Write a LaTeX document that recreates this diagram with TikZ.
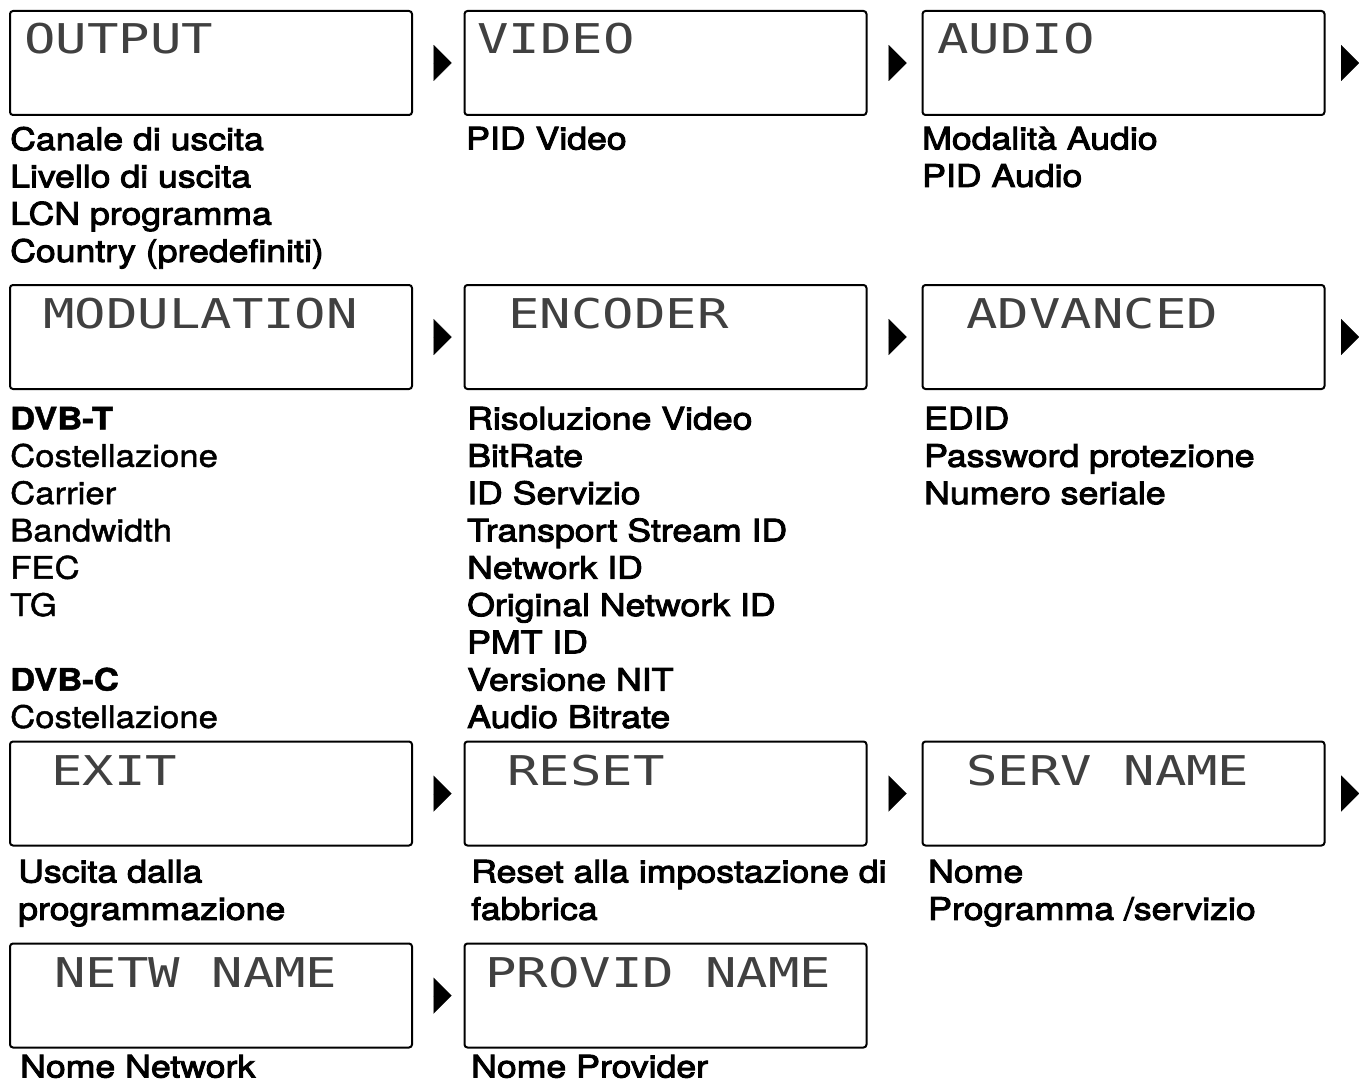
\documentclass[tikz,border=0pt]{standalone}
\usepackage{fontspec}
\usepackage{tikz}
\usetikzlibrary{arrows.meta}
\newfontfamily\lcdfont[FakeStretch=1.275]{DejaVu Sans Mono}
\newfontfamily\itemfont[FakeStretch=1.15,FakeBold=3]{TeX Gyre Heros}
\newfontfamily\itemlightfont[FakeStretch=1.12,FakeBold=1.5]{TeX Gyre Heros}

\begin{document}
\begin{tikzpicture}[x=1pt, y=-1pt,
    screen/.style = {draw, line width=2pt, rounded corners=3pt, minimum width=402pt, minimum height=104pt, inner sep=0pt},
    lcd/.style = {anchor=base west, inner sep=0pt, text=black!75, font=\lcdfont\fontsize{41}{41}\selectfont},
    items/.style = {anchor=north west, inner sep=0pt, align=left, font=\itemfont\fontsize{31}{37.3}\selectfont},
    flow/.style = {line width=0.01pt, -{Triangle[length=18pt, width=36pt]}}]
                \useasboundingbox (0,0) rectangle (1359,1083);

                \node[screen] at (211, 63) (output) {};
                \node[screen] at (665.5, 63) (video) {};
                \node[screen] at (1123.5, 63) (audio) {};
                \node[screen] at (211, 337) (modulation) {};
                \node[screen] at (665.5, 337) (encoder) {};
                \node[screen] at (1123.5, 337) (advanced) {};
                \node[screen] at (211, 793.5) (exit) {};
                \node[screen] at (665.5, 793.5) (reset) {};
                \node[screen] at (1123.5, 793.5) (servname) {};
                \node[screen] at (211, 995.5) (netwname) {};
                \node[screen] at (665.5, 995.5) (providname) {};

                \node[lcd] at (24, 54) (outputtxt) {OUTPUT};
                \node[lcd] at (477, 54) (videotxt) {VIDEO};
                \node[lcd] at (937, 54) (audiotxt) {AUDIO};
                \node[lcd] at (43, 328) (modulationtxt) {MODULATION};
                \node[lcd] at (508, 328) (encodertxt) {ENCODER};
                \node[lcd] at (966, 328) (advancedtxt) {ADVANCED};
                \node[lcd] at (51, 785) (exittxt) {EXIT};
                \node[lcd] at (507, 785) (resettxt) {RESET};
                \node[lcd] at (966, 785) (servnametxt) {SERV NAME};
                \node[lcd] at (54, 987) (netwnametxt) {NETW NAME};
                \node[lcd] at (485, 987) (providnametxt) {PROVID NAME};

                \node[items] at (10, 126.7) (outputlist) {Canale di uscita\\Livello di uscita\\LCN programma\\Country (predefiniti)};
                \node[items] at (466, 126.7) (videolist) {PID Video};
                \node[items] at (922, 126.7) (audiolist) {Modalità Audio\\PID Audio};
                \node[items, font=\itemlightfont\fontsize{31}{37.3}\selectfont] at (10, 406.7) (modulationlist) {\textbf{DVB-T}\\Costellazione\\Carrier\\Bandwidth\\FEC\\TG\\\mbox{}\\\textbf{DVB-C}\\Costellazione};
                \node[items] at (467, 406.7) (encoderlist) {Risoluzione Video\\BitRate\\ID Servizio\\Transport Stream ID\\Network ID\\Original Network ID\\PMT ID\\Versione NIT\\Audio Bitrate};
                \node[items] at (924, 406.7) (advancedlist) {EDID\\Password protezione\\Numero seriale};
                \node[items] at (18, 859.7) (exitlist) {Uscita dalla\\programmazione};
                \node[items] at (471, 859.7) (resetlist) {Reset alla impostazione di\\fabbrica};
                \node[items] at (928, 859.7) (servnamelist) {Nome\\Programma /servizio};
                \node[items] at (20, 1054.7) (netwnamelist) {Nome Network};
                \node[items] at (471, 1054.7) (providnamelist) {Nome Provider};

                \coordinate (audioout) at (1359, 63);
                \coordinate (advancedout) at (1359, 337);
                \coordinate (servnameout) at (1359, 793.5);

                \draw[flow, shorten <=20pt, shorten >=12pt] (output) -- (video);
                \draw[flow, shorten <=21pt, shorten >=15pt] (video) -- (audio);
                \draw[flow, shorten <=15.5pt] (audio) -- (audioout);
                \draw[flow, shorten <=20pt, shorten >=12pt] (modulation) -- (encoder);
                \draw[flow, shorten <=21pt, shorten >=15pt] (encoder) -- (advanced);
                \draw[flow, shorten <=15.5pt] (advanced) -- (advancedout);
                \draw[flow, shorten <=20pt, shorten >=12pt] (exit) -- (reset);
                \draw[flow, shorten <=21pt, shorten >=15pt] (reset) -- (servname);
                \draw[flow, shorten <=15.5pt] (servname) -- (servnameout);
                \draw[flow, shorten <=20pt, shorten >=12pt] (netwname) -- (providname);
            \end{tikzpicture}
\end{document}
